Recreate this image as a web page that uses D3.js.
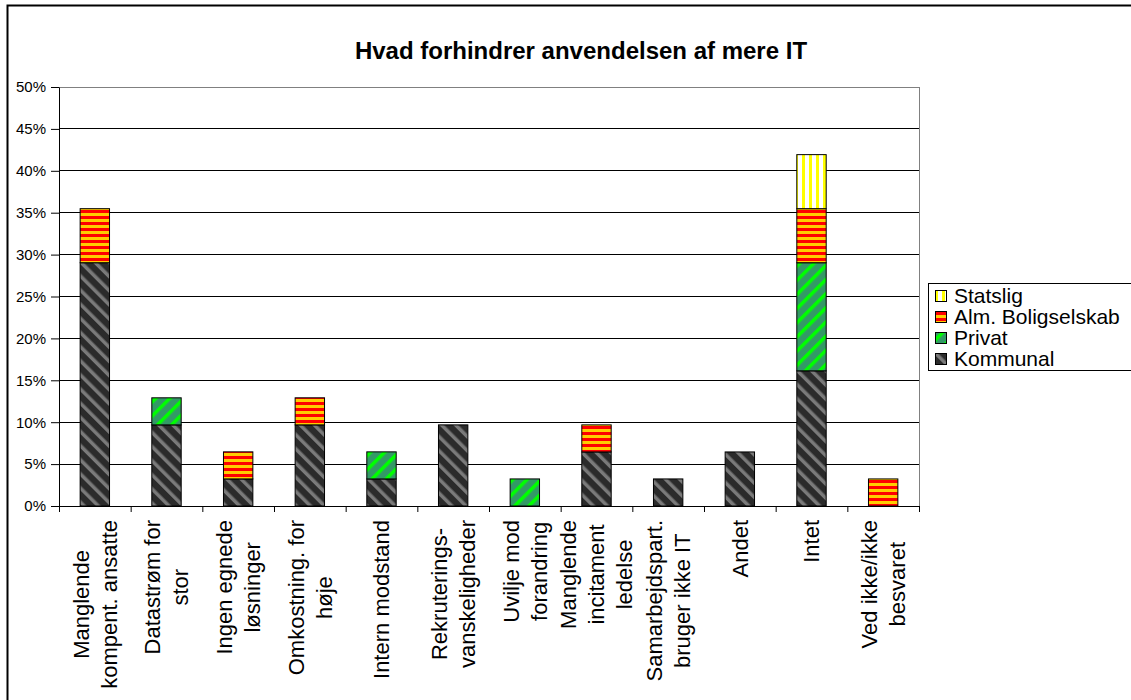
<!DOCTYPE html>
<html><head><meta charset="utf-8">
<script src="https://cdn.jsdelivr.net/npm/d3@7"></script>
<style>body{margin:0;background:#fff;}svg{display:block;font-family:Arial,"Liberation Sans",sans-serif;}</style>
</head><body>
<svg id="c" width="1131" height="700"></svg>
<script>
const categories = [
  ["Manglende","kompent. ansatte"],
  ["Datastrøm for","stor"],
  ["Ingen egnede","løsninger"],
  ["Omkostning. for","høje"],
  ["Intern modstand"],
  ["Rekruterings-","vanskeligheder"],
  ["Uvilje mod","forandring"],
  ["Manglende","incitament","ledelse"],
  ["Samarbejdspart.","bruger ikke IT"],
  ["Andet"],
  ["Intet"],
  ["Ved ikke/ikke","besvaret"]
];
const seriesNames = ["Kommunal","Privat","Alm. Boligselskab","Statslig"];
const kommunal = [29.03, 9.68, 3.23, 9.68, 3.23, 9.68, 0, 6.45, 3.23, 6.45, 16.13, 0];
const privat   = [0, 3.23, 0, 0, 3.23, 0, 3.23, 0, 0, 0, 12.90, 0];
const alm      = [6.45, 0, 3.23, 3.23, 0, 0, 0, 3.23, 0, 0, 6.45, 3.23];
const statslig = [0, 0, 0, 0, 0, 0, 0, 0, 0, 0, 6.45, 0];
const yTicks = [0,5,10,15,20,25,30,35,40,45,50];
const title = "Hvad forhindrer anvendelsen af mere IT";

const svg = d3.select("#c");
const defs = svg.append("defs");
function diag(id, bg, fg, dir){
  const p = defs.append("pattern").attr("id",id).attr("patternUnits","userSpaceOnUse")
    .attr("width",10).attr("height",10).attr("patternTransform", `rotate(${dir})`);
  p.append("rect").attr("width",10).attr("height",10).attr("fill",bg);
  p.append("rect").attr("width",3.5).attr("height",10).attr("fill",fg);
}
diag("pK","#2b2b2b","#7a7a7a",-45);
diag("pP","#339966","#00ff00",45);
{
  const p = defs.append("pattern").attr("id","pA").attr("patternUnits","userSpaceOnUse").attr("width",6).attr("height",6);
  p.append("rect").attr("width",6).attr("height",6).attr("fill","#ffcc00");
  p.append("rect").attr("width",6).attr("height",3).attr("fill","#ff0000");
}
{
  const p = defs.append("pattern").attr("id","pS").attr("patternUnits","userSpaceOnUse").attr("width",7).attr("height",7);
  p.append("rect").attr("width",7).attr("height",7).attr("fill","#ffffff");
  p.append("rect").attr("x",4).attr("width",3).attr("height",7).attr("fill","#ffff00");
}
const fills = ["url(#pK)","url(#pP)","url(#pA)","url(#pS)"];

svg.append("rect").attr("x",7.5).attr("y",5.5).attr("width",1130).attr("height",700)
  .attr("fill","none").attr("stroke","#000").attr("stroke-width",2);

const L=59, R=919, T=87, B=506;
const x = d3.scaleBand().domain(d3.range(categories.length)).range([L,R]).paddingInner(0.59).paddingOuter(0.295);
const y = d3.scaleLinear().domain([0,50]).range([B,T]);

svg.append("g").selectAll("line").data(yTicks).join("line")
  .attr("x1",L).attr("x2",R).attr("y1",d=>y(d)).attr("y2",d=>y(d))
  .attr("stroke","#000").attr("stroke-width",1).attr("shape-rendering","crispEdges");
svg.append("rect").attr("x",L).attr("y",T).attr("width",R-L).attr("height",B-T)
  .attr("fill","none").attr("stroke","#808080").attr("stroke-width",1).attr("shape-rendering","crispEdges");

const data = categories.map((c,i)=>({i, Kommunal:kommunal[i], Privat:privat[i], "Alm. Boligselskab":alm[i], Statslig:statslig[i]}));
const stack = d3.stack().keys(seriesNames)(data);
stack.forEach((s,si)=>{
  svg.append("g").selectAll("rect").data(s.filter(d=>d[1]-d[0]>0)).join("rect")
    .attr("x",d=>x(d.data.i)).attr("width",x.bandwidth())
    .attr("y",d=>y(d[1])).attr("height",d=>y(d[0])-y(d[1]))
    .attr("fill",fills[si]).attr("stroke","#000").attr("stroke-width",1);
});

const ya = svg.append("g").attr("transform",`translate(${L},0)`)
  .call(d3.axisLeft(y).tickValues(yTicks).tickFormat(d=>d+"%").tickSize(8).tickSizeOuter(0).tickPadding(5));
ya.select(".domain").attr("stroke","#000");
ya.selectAll(".tick line").attr("stroke","#000");
ya.selectAll("text").attr("font-size",15).attr("fill","#000").attr("font-family","Arial, 'Liberation Sans', sans-serif");

const xb = d3.scaleLinear().domain([0,categories.length]).range([L,R]);
const xa = svg.append("g").attr("transform",`translate(0,${B})`)
  .call(d3.axisBottom(xb).tickValues(d3.range(0,categories.length+1)).tickFormat("").tickSize(6).tickSizeOuter(0));
xa.select(".domain").attr("stroke","#000");
xa.selectAll(".tick line").attr("stroke","#000");

const lh = 28;
categories.forEach((lines,i)=>{
  const cx = x(i)+x.bandwidth()/2;
  const n = lines.length;
  const g = svg.append("g").attr("transform",`translate(${cx},${B+14}) rotate(-90)`);
  lines.forEach((t,k)=>{
    g.append("text").attr("x",0).attr("y",(k-(n-1)/2)*lh).attr("dy","0.35em")
      .attr("text-anchor", n>1 ? "middle" : "end")
      .attr("font-size",22).attr("fill","#000").text(t);
  });
  if(n>1){
    const widths = g.selectAll("text").nodes().map(nd=>nd.getComputedTextLength());
    const mw = d3.max(widths);
    g.selectAll("text").attr("x",-mw/2);
  }
});

svg.append("text").attr("x",581).attr("y",59).attr("text-anchor","middle")
  .attr("font-size",24).attr("font-weight","bold").text(title);

const lg = svg.append("g");
lg.append("rect").attr("x",928.5).attr("y",283.5).attr("width",210).attr("height",87)
  .attr("fill","#fff").attr("stroke","#000").attr("stroke-width",1);
const legOrder = ["Statslig","Alm. Boligselskab","Privat","Kommunal"];
const legY = [296,317,338,359];
legOrder.forEach((nm,k)=>{
  const si = seriesNames.indexOf(nm);
  lg.append("rect").attr("x",935.5).attr("y",legY[k]-5.5).attr("width",11).attr("height",11)
    .attr("fill",fills[si]).attr("stroke","#000").attr("stroke-width",1);
  lg.append("text").attr("x",954).attr("y",legY[k]).attr("dy","0.35em").attr("font-size",21).text(nm);
});
</script>
</body></html>
